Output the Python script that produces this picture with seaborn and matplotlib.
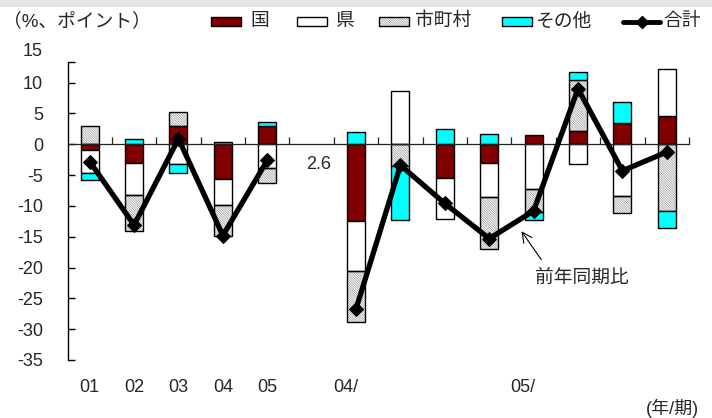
import numpy as np
import matplotlib
matplotlib.use("Agg")
import matplotlib.pyplot as plt
from matplotlib.patches import Rectangle
from matplotlib.lines import Line2D
import seaborn as sns

# ---------------- data ----------------
categories = ['01', '02', '03', '04', '05', '',
              '04/1', '04/2', '04/3', '04/4', '05/1', '05/2', '05/3', '05/4']
tick_labels = ['01', '02', '03', '04', '05', '',
               '04/', '', '', '', '05/', '', '', '']
kuni = [-1.0, -3.0, 2.9, -5.7, 3.0, np.nan,
        -12.4, 0.0, -5.5, -3.0, 1.5, 2.2, 3.4, 4.55]          # 国
ken = [-3.6, -5.2, -3.2, -4.2, -3.9, np.nan,
       -8.2, 8.7, -6.7, -5.5, -7.3, -3.25, -8.35, 7.7]        # 県
shichoson = [2.9, -5.8, 2.4, -5.05, -2.4, np.nan,
             -8.2, -3.6, 0.0, -8.5, -3.7, 8.15, -2.8, -10.8]  # 市町村
sonota = [-1.2, 0.9, -1.4, 0.4, 0.55, np.nan,
          2.05, -8.7, 2.5, 1.7, -1.35, 1.45, 3.5, -2.8]       # その他
total = [-2.8, -13.1, 0.9, -14.8, -2.6, np.nan,
         -26.7, -3.4, -9.6, -15.3, -10.8, 9.0, -4.3, -1.25]   # 合計
series_names = ['国', '県', '市町村', 'その他']
y_ticks = [-35, -30, -25, -20, -15, -10, -5, 0, 5, 10]

# ---------------- style ----------------
sns.set_theme(style='white')
plt.rcParams['font.family'] = ['Liberation Sans', 'Noto Sans CJK JP']
plt.rcParams['hatch.linewidth'] = 0.5
plt.rcParams['axes.unicode_minus'] = False

W, H = 712, 418
fig = plt.figure(figsize=(W / 100, H / 100), dpi=100)
fig.patch.set_facecolor('white')

def fx(px):
    return px / W

def fy(py):
    return 1 - py / H

# top grey band
fig.add_artist(Rectangle((0, fy(7.3)), 1, 7.3 / H, transform=fig.transFigure,
                         facecolor='#e6e6e6', edgecolor='none'))

ax = fig.add_axes([fx(67.5), fy(360), (689 - 67.5) / W, (360 - 61.7) / H])
ax.set_facecolor('white')

n = len(categories)
pos = np.arange(n)
bw = 0.405
HATCH = '\\' * 14
HATCH_COLOR = '#9a9a9a'
colors = ['#800000', 'white', 'white', '#00ffff']
hatched = [False, False, True, False]

data = np.array([kuni, ken, shichoson, sonota], dtype=float)
pos_base = np.zeros(n)
neg_base = np.zeros(n)
for k, vals in enumerate(data):
    v = np.nan_to_num(vals)
    bottoms = np.where(v >= 0, pos_base, neg_base)
    m = v != 0
    if hatched[k]:
        ax.bar(pos[m], v[m], bw, bottom=bottoms[m], facecolor='white',
               edgecolor=HATCH_COLOR, linewidth=0, hatch=HATCH, zorder=2)
        ax.bar(pos[m], v[m], bw, bottom=bottoms[m], fill=False, edgecolor='black',
               linewidth=1.0, zorder=2.1)
    else:
        ax.bar(pos[m], v[m], bw, bottom=bottoms[m], facecolor=colors[k],
               edgecolor='black', linewidth=1.0, zorder=2.1)
    pos_base = pos_base + np.where(v >= 0, v, 0)
    neg_base = neg_base + np.where(v < 0, v, 0)

# total line (two segments: annual and quarterly)
tot = np.array(total, dtype=float)
for seg in (slice(0, 5), slice(6, n)):
    sns.lineplot(x=pos[seg], y=tot[seg], ax=ax, color='black', linewidth=3.8,
                 marker='D', markersize=7, markeredgecolor='black',
                 sort=False, estimator=None, zorder=4, legend=False)

ax.set_xlim(-0.5, n - 0.5)
ax.set_ylim(-35, 13.4)

# axes styling
for s in ['top', 'right']:
    ax.spines[s].set_visible(False)
ax.spines['left'].set_color('black')
ax.spines['left'].set_linewidth(1.0)
ax.spines['bottom'].set_position(('data', 0))
ax.spines['bottom'].set_color('#222222')
ax.spines['bottom'].set_linewidth(0.9)
ax.spines['bottom'].set_zorder(3)

ax.set_xticks(np.arange(0.5, n, 1.0))
ax.tick_params(axis='x', direction='in', length=5, width=0.9, colors='#222222',
               labelbottom=False, bottom=True)
ax.set_yticks(y_ticks + [13.4])
ax.set_yticklabels([str(t) for t in y_ticks] + [''])
ax.tick_params(axis='y', direction='in', length=5, width=1, color='black',
               labelsize=13, pad=17.6, left=True)
ax.text(-0.5 - 24.5 / 44.4, 15, '15', ha='right', va='center', fontsize=13,
        clip_on=False)
ax.set_xlabel('')
ax.set_ylabel('')
ax.grid(False)

# category labels below the plot
trans = ax.get_xaxis_transform()
for p, lab in zip(pos, tick_labels):
    if not lab:
        continue
    if lab.endswith('/'):
        ax.text(p + 0.05, -0.093, lab, transform=trans, ha='right', va='center',
                fontsize=13, clip_on=False)
    else:
        ax.text(p, -0.093, lab, transform=trans, ha='center', va='center',
                fontsize=13, clip_on=False)

ax.text(5.15, -3.35, '2.6', ha='center', va='center', fontsize=13)

# annotation
ax.annotate('', xy=(9.69, -13.74), xytext=(10.21, -19.1),
            arrowprops=dict(arrowstyle='->,head_length=0.6,head_width=0.3',
                            lw=0.8, color='black'))
ax.text(11.08, -21.7, '前年同期比', ha='center', va='center', fontsize=13.5)

# unit labels
fig.text(fx(3), fy(21.7), '（%、ポイント）', ha='left', va='center', fontsize=13.5)
fig.text(fx(699), fy(408), '(年/期)', ha='right', va='center', fontsize=13)

# legend (manual)
ly = 21.7
ph = 8.7
leg = [(211, '#800000', False, 250, '国'),
       (297, 'white', False, 335, '県'),
       (379, 'white', True, 415, '市町村'),
       (502, '#00ffff', False, 535, 'その他')]
for x0, fc, hat, tx, lab in leg:
    if hat:
        fig.add_artist(Rectangle((fx(x0), fy(ly + ph / 2)), 30 / W, ph / H,
                                 transform=fig.transFigure, facecolor='white',
                                 edgecolor=HATCH_COLOR, linewidth=0, hatch=HATCH))
        fig.add_artist(Rectangle((fx(x0), fy(ly + ph / 2)), 30 / W, ph / H,
                                 transform=fig.transFigure, fill=False,
                                 edgecolor='black', linewidth=1.0))
    else:
        fig.add_artist(Rectangle((fx(x0), fy(ly + ph / 2)), 30 / W, ph / H,
                                 transform=fig.transFigure, facecolor=fc,
                                 edgecolor='black', linewidth=1.0))
    fig.text(fx(tx), fy(ly), lab, ha='left', va='center', fontsize=13.5)

fig.add_artist(Line2D([fx(623), fx(660)], [fy(ly), fy(ly)], transform=fig.transFigure,
                      color='black', linewidth=3.5))
fig.add_artist(Line2D([fx(641.5)], [fy(ly)], transform=fig.transFigure,
                      color='black', marker='D', markersize=6))
fig.text(fx(663), fy(ly), '合計', ha='left', va='center', fontsize=13.5)

fig.savefig('out.png', dpi=100, facecolor='white')
